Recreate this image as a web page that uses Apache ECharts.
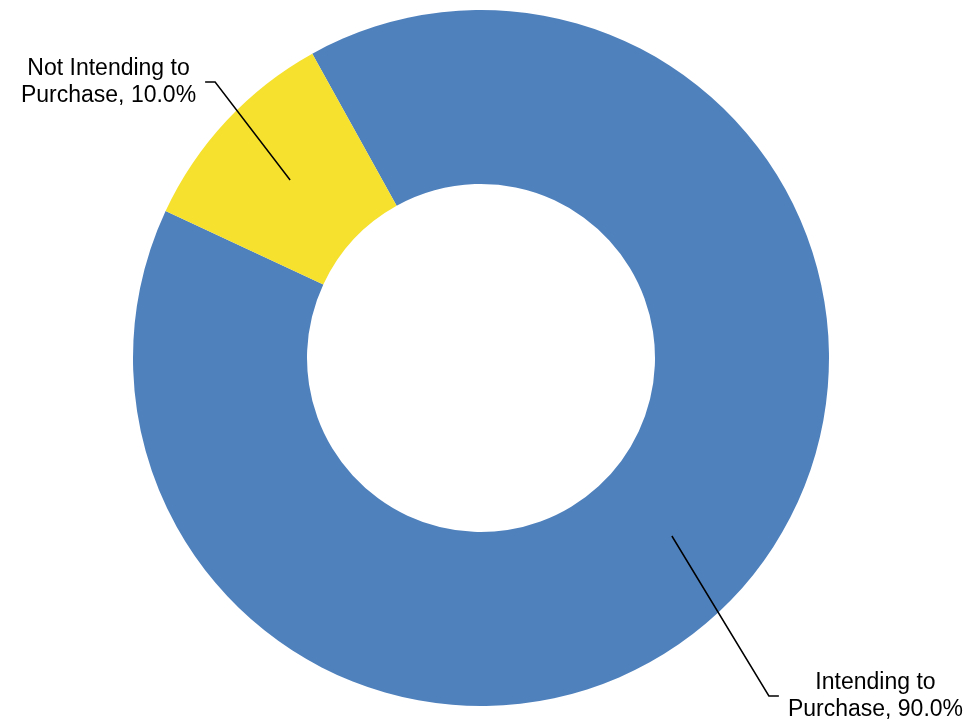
<!DOCTYPE html>
<html>
<head>
<meta charset="utf-8">
<title>Purchase Intention</title>
<script src="https://cdn.jsdelivr.net/npm/echarts@6/dist/echarts.min.js"></script>
<style>
  html, body { margin: 0; padding: 0; background: #ffffff; }
  #chart { width: 974px; height: 725px; }
</style>
</head>
<body>
<div id="chart"></div>
<script>
// Data
const categories = ['Intending to Purchase', 'Not Intending to Purchase'];
const shares = [90, 10];
const colors = ['#4F81BD', '#F5E12E'];

// Leader line shape for each slice: offset of the bend from the anchor, and the horizontal tail
const leaders = [
  { dx: 97, dy: 160, tail: 10 },
  { dx: -75, dy: -98, tail: -10 }
];
const labelGap = 9;

// Ring geometry
const CENTER = [481, 358];
const R_IN = 174;
const R_OUT = 348;
const START_ANGLE = 119;

const data = categories.map((name, i) => ({ name: name, value: shares[i] }));

function labelText(p) {
  return p.name.replace(' Purchase', '\nPurchase') + ', ' + p.percent.toFixed(1) + '%';
}

const chart = echarts.init(document.getElementById('chart'), null, { renderer: 'canvas' });

chart.setOption({
  backgroundColor: '#ffffff',
  animation: false,
  series: [
    {
      // the donut itself
      type: 'pie',
      z: 1,
      center: CENTER,
      radius: [R_IN, R_OUT],
      startAngle: START_ANGLE,
      clockwise: true,
      silent: true,
      label: { show: false },
      labelLine: { show: false },
      emphasis: { disabled: true },
      itemStyle: { borderWidth: 0 },
      data: data.map((d, i) => ({ name: d.name, value: d.value, itemStyle: { color: colors[i] } }))
    },
    {
      // transparent twin whose rim runs through the middle of the ring; it carries the labels
      type: 'pie',
      z: 5,
      center: CENTER,
      radius: [0, (R_IN + R_OUT) / 2],
      startAngle: START_ANGLE,
      clockwise: true,
      silent: true,
      emphasis: { disabled: true },
      itemStyle: { color: 'rgba(0,0,0,0)', borderWidth: 0 },
      label: {
        show: true,
        position: 'outside',
        color: '#000000',
        fontFamily: '"Liberation Sans", Arial, sans-serif',
        fontSize: 23,
        lineHeight: 27,
        align: 'center',
        formatter: labelText
      },
      labelLine: {
        show: true,
        length: 20,
        length2: 10,
        smooth: false,
        lineStyle: { color: '#000000', width: 1.5 }
      },
      labelLayout: function (p) {
        const a = p.labelLinePoints[0];
        const L = leaders[p.dataIndex];
        const bend = [a[0] + L.dx, a[1] + L.dy];
        const end = [bend[0] + L.tail, bend[1]];
        const half = p.labelRect.width / 2;
        return {
          x: end[0] + Math.sign(L.tail) * (labelGap + half),
          y: end[1],
          align: 'center',
          verticalAlign: 'middle',
          labelLinePoints: [a, bend, end]
        };
      },
      data: data
    }
  ]
});
</script>
</body>
</html>
